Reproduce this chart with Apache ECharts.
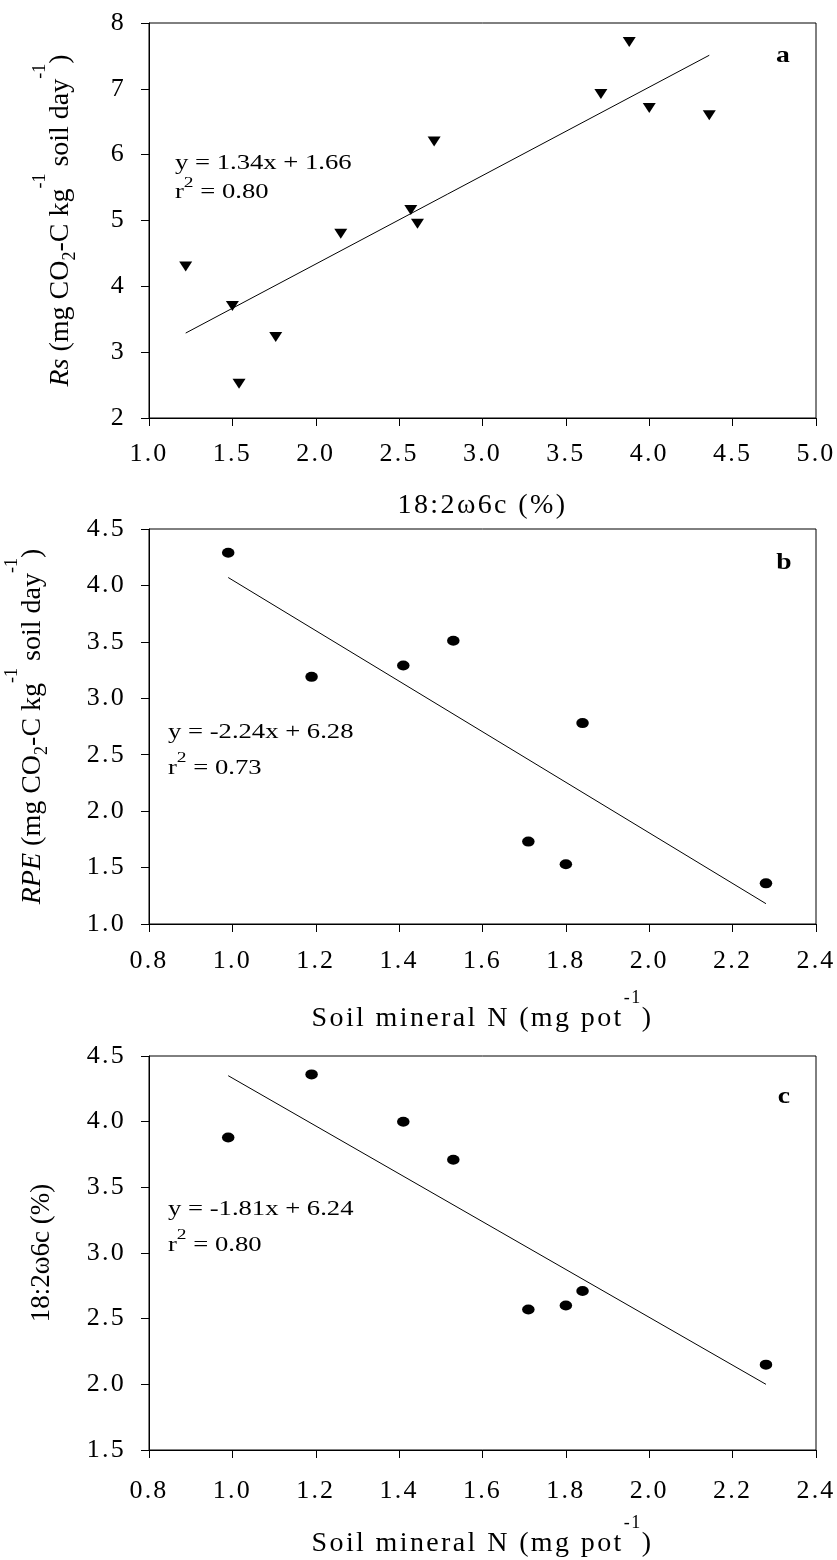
<!DOCTYPE html>
<html>
<head>
<meta charset="utf-8">
<script src="https://cdn.jsdelivr.net/npm/echarts@6/dist/echarts.min.js"></script>
<style>
html,body{margin:0;padding:0;background:#fff;}
#chart{width:837px;height:1560px;}
</style>
</head>
<body>
<div id="chart"></div>
<script>
// ---------------- data ----------------
// Panel a : Rs vs 18:2w6c (%)
const xA = [1.22, 1.50, 1.54, 1.76, 2.15, 2.57, 2.61, 2.71, 3.71, 3.88, 4.00, 4.36];
const yA = [4.30, 3.70, 2.52, 3.23, 4.80, 5.16, 4.95, 6.20, 6.92, 7.71, 6.71, 6.60];
const fitXA = [1.22, 4.36];
const fitYA = [3.29, 7.51];

// Panels b and c : versus soil mineral N
const xN = [0.99, 1.19, 1.41, 1.53, 1.71, 1.80, 1.84, 2.28];
const yB = [4.29, 3.19, 3.29, 3.51, 1.73, 1.53, 2.78, 1.36];
const fitXB = [0.99, 2.28];
const fitYB = [4.07, 1.18];
const yC = [3.88, 4.36, 4.00, 3.71, 2.57, 2.60, 2.71, 2.15];
const fitXC = [0.99, 2.28];
const fitYC = [4.35, 2.00];

// axis ranges [min, max, step]
const xRangeA = [1, 5, 0.5];
const yRangeA = [2, 8, 1];
const xRangeN = [0.8, 2.4, 0.2];
const yRangeB = [1, 4.5, 0.5];
const yRangeC = [1.5, 4.5, 0.5];

// texts
const eqA = ['y = 1.34x + 1.66', '0.80'];
const eqB = ['y = -2.24x + 6.28', '0.73'];
const eqC = ['y = -1.81x + 6.24', '0.80'];
const letters = ['a', 'b', 'c'];

// ---------------- fonts ----------------
// horizontal (tracked) text and rotated (untracked) text use two family lists
const FONT = '"Liberation Serif", serif';
const FONT_R = '"Liberation Serif", "Times New Roman", serif';
const BLACK = '#000';

function trackFor(font) {
  if (!font || font.indexOf('Times New Roman') >= 0) return 0;
  const m = /(\d+(?:\.\d+)?)px/.exec(font);
  const fs = m ? parseFloat(m[1]) : 12;
  return fs * 0.085;
}
const _mctx = document.createElement('canvas').getContext('2d');
if (echarts.setPlatformAPI) {
  echarts.setPlatformAPI({
    measureText: function (text, font) {
      _mctx.font = font || '12px sans-serif';
      _mctx.letterSpacing = trackFor(_mctx.font) + 'px';
      return _mctx.measureText(text);
    }
  });
}
const _fill = CanvasRenderingContext2D.prototype.fillText;
CanvasRenderingContext2D.prototype.fillText = function (t, x, y, w) {
  if (this !== _mctx) this.letterSpacing = trackFor(this.font) + 'px';
  return w === undefined ? _fill.call(this, t, x, y) : _fill.call(this, t, x, y, w);
};

// ---------------- styling helpers ----------------
const ELLIPSE = 'path://M0,5A5,5 0 1,1 10,5A5,5 0 1,1 0,5Z';

const richX = {
  sup: {fontFamily: FONT, fontSize: 18, color: BLACK, padding: [0, 0, 40, 0]}
};
const richY = {
  it:  {fontFamily: FONT_R, fontSize: 28, fontStyle: 'italic', color: BLACK},
  sub: {fontFamily: FONT_R, fontSize: 18, color: BLACK, padding: [20, 0, 0, 0]},
  sup: {fontFamily: FONT_R, fontSize: 18, color: BLACK, padding: [0, 0, 40, 0]}
};

function pairs(xs, ys) { return xs.map((x, i) => [x, ys[i]]); }

function makeX(grid, range, digits, margin, name, gap) {
  return {
    gridIndex: grid, type: 'value',
    min: range[0], max: range[1], interval: range[2],
    axisLine: {show: true, onZero: false, lineStyle: {color: BLACK, width: 1}},
    axisTick: {show: true, inside: false, length: 8, lineStyle: {color: BLACK, width: 1}},
    splitLine: {show: false},
    axisLabel: {color: BLACK, fontFamily: FONT, fontSize: 26, margin: margin,
      formatter: v => v.toFixed(digits)},
    name: name, nameLocation: 'middle', nameGap: gap,
    nameTextStyle: {color: BLACK, fontFamily: FONT, fontSize: 28,
      verticalAlign: 'middle', align: 'center', rich: richX}
  };
}
function makeY(grid, range, digits, name, gap, fs) {
  return {
    gridIndex: grid, type: 'value',
    min: range[0], max: range[1], interval: range[2],
    axisLine: {show: true, onZero: false, lineStyle: {color: BLACK, width: 1}},
    axisTick: {show: true, inside: false, length: 8, lineStyle: {color: BLACK, width: 1}},
    splitLine: {show: false},
    axisLabel: {color: BLACK, fontFamily: FONT, fontSize: 26, margin: 23,
      formatter: v => v.toFixed(digits)},
    name: name, nameLocation: 'middle', nameGap: gap, nameRotate: 90,
    nameTextStyle: {color: BLACK, fontFamily: FONT_R, fontSize: fs,
      verticalAlign: 'middle', align: 'center', rich: richY}
  };
}
function gridBox(top, h) {
  return {left: 149, right: 21, top: top, height: h, show: true,
    borderColor: BLACK, borderWidth: 1, backgroundColor: 'transparent',
    containLabel: false, outerBoundsMode: 'none'};
}
function eqLines(x, y1, y2, lines) {
  return [
    {type: 'text', x: x, y: y1, scaleX: 1.3, z: 100,
      style: {text: lines[0], fontFamily: FONT_R, fontSize: 20.5, fill: BLACK,
        align: 'left', verticalAlign: 'middle', textAlign: 'left', textVerticalAlign: 'middle'}},
    {type: 'text', x: x, y: y2, scaleX: 1.3, z: 100,
      style: {text: '{b|r}{s|2}{b| = ' + lines[1] + '}', fontFamily: FONT_R, fontSize: 20.5, fill: BLACK,
        align: 'left', verticalAlign: 'middle', textAlign: 'left', textVerticalAlign: 'middle',
        rich: {
          b: {fontFamily: FONT_R, fontSize: 20.5, fill: BLACK, color: BLACK},
          s: {fontFamily: FONT_R, fontSize: 15, fill: BLACK, color: BLACK, padding: [0, 0, 20, 0]}
        }}}
  ];
}
function letter(x, y, t) {
  return {type: 'text', x: x, y: y, scaleX: 1.15, z: 100,
    style: {text: t, fontFamily: FONT_R, fontSize: 24, fontWeight: 'bold', fill: BLACK,
      align: 'center', verticalAlign: 'middle', textAlign: 'center', textVerticalAlign: 'middle'}};
}
function scatter(xi, data, symbol, size, rot) {
  return {type: 'scatter', xAxisIndex: xi, yAxisIndex: xi, data: data,
    symbol: symbol, symbolSize: size, symbolRotate: rot, symbolKeepAspect: false,
    itemStyle: {color: BLACK, opacity: 1}, z: 3};
}
function fitLine(xi, data) {
  return {type: 'line', xAxisIndex: xi, yAxisIndex: xi, data: data, symbol: 'none',
    showSymbol: false, lineStyle: {color: BLACK, width: 1}, z: 2};
}

const option = {
  animation: false,
  backgroundColor: '#fff',
  tooltip: {show: false},
  grid: [gridBox(23, 395), gridBox(529, 395), gridBox(1056, 394)],
  xAxis: [
    makeX(0, xRangeA, 1, 22, '18:2ω6c (%)', 87.5),
    makeX(1, xRangeN, 1, 23.5, 'Soil mineral N (mg pot{sup|-1})', 94.5),
    makeX(2, xRangeN, 1, 27, 'Soil mineral N (mg pot{sup|-1})', 93.5)
  ],
  yAxis: [
    makeY(0, yRangeA, 0, '{it|Rs} (mg CO{sub|2}-C kg{sup|-1} soil day{sup|-1})', 88.5, 28),
    makeY(1, yRangeB, 1, '{it|RPE} (mg CO{sub|2}-C kg{sup|-1} soil day{sup|-1})', 116.8, 28),
    makeY(2, yRangeC, 1, '18:2ω6c (%)', 106.8, 27)
  ],
  series: [
    fitLine(0, pairs(fitXA, fitYA)),
    scatter(0, pairs(xA, yA), 'triangle', [13, 10], 180),
    fitLine(1, pairs(fitXB, fitYB)),
    scatter(1, pairs(xN, yB), ELLIPSE, [12.5, 10], 0),
    fitLine(2, pairs(fitXC, fitYC)),
    scatter(2, pairs(xN, yC), ELLIPSE, [12.5, 10], 0)
  ],
  graphic: [].concat(
    eqLines(175, 163.3, 193, eqA),
    eqLines(168, 732.7, 768.3, eqB),
    eqLines(168, 1210, 1245.5, eqC),
    [letter(783, 55.5, letters[0]), letter(784, 563, letters[1]), letter(784, 1096.5, letters[2])]
  )
};

const chart = echarts.init(document.getElementById('chart'), null, {renderer: 'canvas'});
chart.setOption(option);
</script>
</body>
</html>
